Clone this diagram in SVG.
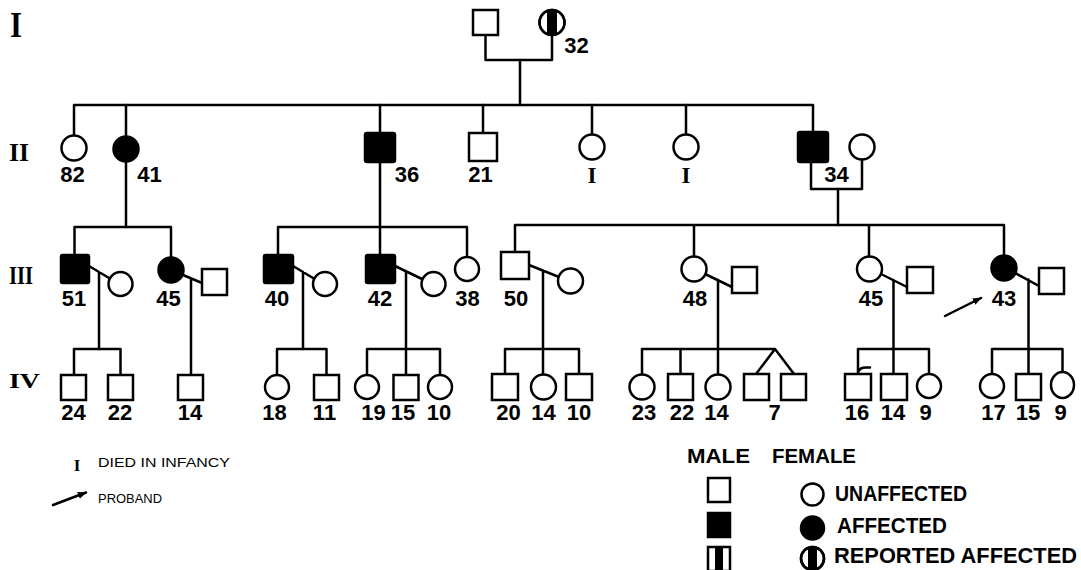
<svg xmlns="http://www.w3.org/2000/svg" width="1081" height="570" viewBox="0 0 1081 570">
<style>
.ln{fill:none;stroke:#000;stroke-width:2.5;stroke-linejoin:round;stroke-linecap:round}
.op{fill:#fff;stroke:#000;stroke-width:2.5}
.af{fill:#000;stroke:#000;stroke-width:2.5}
.lb{font-family:"Liberation Sans",Arial,sans-serif;font-weight:bold;font-size:22px;fill:#000;text-anchor:middle}
.rm{font-family:"Liberation Serif","Times New Roman",serif;font-weight:bold;fill:#000}
.lg{font-family:"Liberation Sans",Arial,sans-serif;font-weight:bold;fill:#000}
.nt{font-family:"Liberation Sans",Arial,sans-serif;font-weight:normal;font-size:13px;fill:#000}
</style>
<defs>
<marker id="ah" viewBox="0 0 10 10" refX="9" refY="5" markerWidth="9" markerHeight="9" markerUnits="userSpaceOnUse" orient="auto">
<path d="M0,1 L10,5 L0,9 Z" fill="#000"/>
</marker>
<clipPath id="cI2"><circle cx="552" cy="22.5" r="12.5"/></clipPath>
<clipPath id="cLg"><circle cx="812.5" cy="558.5" r="11.5"/></clipPath>
</defs>
<rect width="1081" height="570" fill="#fff"/>

<g id="gen-labels">
<text class="rm" x="10" y="37" font-size="36" textLength="12" lengthAdjust="spacingAndGlyphs">I</text>
<text class="rm" x="9" y="161" font-size="26" textLength="20" lengthAdjust="spacingAndGlyphs">II</text>
<text class="rm" x="9" y="284" font-size="26" textLength="24" lengthAdjust="spacingAndGlyphs">III</text>
<text class="rm" x="9" y="388" font-size="20" textLength="31" lengthAdjust="spacingAndGlyphs">IV</text>
</g>

<g id="connectors">
<path class="ln" d="M485.5 35 V60 H552 V35"/>
<path class="ln" d="M520 60 V105"/>
<path class="ln" d="M74 135.5 V105 H813 V132"/>
<path class="ln" d="M126 105 V136 M380 105 V133 M483 105 V133 M592 105 V134.5 M686 105 V134.5"/>
<path class="ln" d="M126 162 V227"/>
<path class="ln" d="M74.5 255 V227 H171 V257"/>
<path class="ln" d="M380 163 V227"/>
<path class="ln" d="M278 255 V227 H467 V256.5 M380 227 V255"/>
<path class="ln" d="M811 162 V189 H862 V159.5"/>
<path class="ln" d="M838 189 V225"/>
<path class="ln" d="M515 252 V225 H1004 V255 M694 225 V256.5 M869 225 V256.5"/>
<path class="ln" d="M89 266 L109 278 M99 272 V349"/>
<path class="ln" d="M74 375 V349 H120.5 V375"/>
<path class="ln" d="M183 275 L202 283 M191 278.5 V375"/>
<path class="ln" d="M293 266 L313 278 M303 272 V349"/>
<path class="ln" d="M277 375 V349 H326.5 V375"/>
<path class="ln" d="M395 266 L422 279 M406 271.5 V375"/>
<path class="ln" d="M367 375 V349 H440 V375"/>
<path class="ln" d="M529 265 L559 277 M543 270.5 V375"/>
<path class="ln" d="M505 374 V349 H579 V374"/>
<path class="ln" d="M705 274 L732 287 M718 280 V375"/>
<path class="ln" d="M642 375 V349 H775 M680.5 349 V374 M756 374 L775 349 L794 374"/>
<path class="ln" d="M881 274 L907 287 M893.5 280 V374"/>
<path class="ln" d="M858 374 V349 H929 V374"/>
<path class="ln" d="M859 371 Q860 367.5 866 367.5 L870 367.5"/>
<path class="ln" d="M1015 273 L1039 286 M1028.5 279.5 V374"/>
<path class="ln" d="M992 374 V349 H1062.5 V372"/>
<path class="ln" d="M945 316 L981 298" marker-end="url(#ah)"/>
</g>

<g id="I-1"><rect class="op" x="473" y="10" width="25" height="25"/></g>
<g id="I-2">
<circle class="op" cx="552" cy="22.5" r="12.5"/>
<rect x="547" y="8" width="10" height="30" fill="#000" clip-path="url(#cI2)"/>
<circle cx="552" cy="22.5" r="12.5" fill="none" stroke="#000" stroke-width="2.5"/>
<text class="lb" x="576.5" y="53">32</text>
</g>

<g id="II-1"><circle class="op" cx="74" cy="148" r="12.5"/><text class="lb" x="72.5" y="182">82</text></g>
<g id="II-2"><circle class="af" cx="126" cy="149" r="12.5"/><text class="lb" x="149.5" y="182">41</text></g>
<g id="II-3"><rect class="af" x="365" y="133" width="30" height="29" rx="2"/><text class="lb" x="407" y="182">36</text></g>
<g id="II-4"><rect class="op" x="469" y="133" width="28" height="28"/><text class="lb" x="480.5" y="182">21</text></g>
<g id="II-5"><circle class="op" cx="592" cy="147" r="12.5"/><text class="rm" x="592" y="183" font-size="23" text-anchor="middle">I</text></g>
<g id="II-6"><circle class="op" cx="686" cy="147" r="12.5"/><text class="rm" x="686" y="183" font-size="23" text-anchor="middle">I</text></g>
<g id="II-7"><rect class="af" x="798" y="132" width="30" height="30" rx="2"/><text class="lb" x="836.5" y="182">34</text></g>
<g id="II-8"><circle class="op" cx="862" cy="147" r="12.5"/></g>

<g id="III-1"><rect class="af" x="61" y="255" width="28" height="28" rx="1.5"/><text class="lb" x="74" y="306">51</text></g>
<g id="III-2"><circle class="op" cx="120.5" cy="284" r="12"/></g>
<g id="III-3"><circle class="af" cx="171" cy="270" r="12.5"/><text class="lb" x="168.5" y="306">45</text></g>
<g id="III-4"><rect class="op" x="202" y="269" width="25" height="26"/></g>
<g id="III-5"><rect class="af" x="264" y="255" width="29" height="28" rx="1.5"/><text class="lb" x="277" y="306">40</text></g>
<g id="III-6"><circle class="op" cx="325" cy="284" r="12"/></g>
<g id="III-7"><rect class="af" x="366" y="255" width="29" height="28" rx="1.5"/><text class="lb" x="380" y="306">42</text></g>
<g id="III-8"><circle class="op" cx="433.5" cy="284" r="12"/></g>
<g id="III-9"><circle class="op" cx="467" cy="269" r="12"/><text class="lb" x="467.5" y="306">38</text></g>
<g id="III-10"><rect class="op" x="501" y="252" width="28" height="27"/><text class="lb" x="516" y="306">50</text></g>
<g id="III-11"><circle class="op" cx="570.5" cy="281" r="12.5"/></g>
<g id="III-12"><circle class="op" cx="694" cy="269" r="12.5"/><text class="lb" x="695" y="306">48</text></g>
<g id="III-13"><rect class="op" x="732" y="267" width="25" height="26"/></g>
<g id="III-14"><circle class="op" cx="869.5" cy="269" r="12.5"/><text class="lb" x="871" y="306">45</text></g>
<g id="III-15"><rect class="op" x="907" y="267" width="26" height="26"/></g>
<g id="III-16"><circle class="af" cx="1004" cy="268" r="12.5"/><text class="lb" x="1004" y="306">43</text></g>
<g id="III-17"><rect class="op" x="1039" y="268" width="25" height="26"/></g>

<g id="IV-1"><rect class="op" x="61" y="375" width="25" height="25"/><text class="lb" x="73.5" y="420">24</text></g>
<g id="IV-2"><rect class="op" x="108" y="375" width="25" height="25"/><text class="lb" x="120" y="420">22</text></g>
<g id="IV-3"><rect class="op" x="178" y="375" width="25" height="25"/><text class="lb" x="190" y="420">14</text></g>
<g id="IV-4"><circle class="op" cx="277" cy="387" r="12"/><text class="lb" x="274.5" y="420">18</text></g>
<g id="IV-5"><rect class="op" x="314" y="375" width="25" height="25"/><text class="lb" x="324.5" y="420">11</text></g>
<g id="IV-6"><circle class="op" cx="367" cy="387" r="12"/><text class="lb" x="373.5" y="420">19</text></g>
<g id="IV-7"><rect class="op" x="393.5" y="375" width="25" height="25"/><text class="lb" x="403" y="420">15</text></g>
<g id="IV-8"><circle class="op" cx="440" cy="387" r="12"/><text class="lb" x="439" y="420">10</text></g>
<g id="IV-9"><rect class="op" x="492" y="374" width="26" height="26"/><text class="lb" x="508.5" y="420">20</text></g>
<g id="IV-10"><circle class="op" cx="543.5" cy="387" r="12.5"/><text class="lb" x="543.5" y="420">14</text></g>
<g id="IV-11"><rect class="op" x="566" y="374" width="26" height="26"/><text class="lb" x="579" y="420">10</text></g>
<g id="IV-12"><circle class="op" cx="642" cy="387" r="12.5"/><text class="lb" x="644" y="420">23</text></g>
<g id="IV-13"><rect class="op" x="668" y="374" width="25" height="26"/><text class="lb" x="682" y="420">22</text></g>
<g id="IV-14"><circle class="op" cx="718" cy="387" r="12.5"/><text class="lb" x="716.5" y="420">14</text></g>
<g id="IV-15"><rect class="op" x="744" y="374" width="25" height="26"/></g>
<g id="IV-16"><rect class="op" x="781" y="374" width="25" height="26"/><text class="lb" x="774.5" y="420">7</text></g>
<g id="IV-17"><rect class="op" x="845" y="374" width="26" height="26"/><text class="lb" x="857" y="420">16</text></g>
<g id="IV-18"><rect class="op" x="881" y="374" width="26" height="26"/><text class="lb" x="893" y="420">14</text></g>
<g id="IV-19"><circle class="op" cx="929" cy="386" r="12"/><text class="lb" x="925.5" y="420">9</text></g>
<g id="IV-20"><circle class="op" cx="992" cy="386" r="12"/><text class="lb" x="993.5" y="420">17</text></g>
<g id="IV-21"><rect class="op" x="1016" y="374" width="25" height="26"/><text class="lb" x="1028" y="420">15</text></g>
<g id="IV-22"><ellipse class="op" cx="1062.5" cy="385" rx="11.5" ry="13"/><text class="lb" x="1060.5" y="420">9</text></g>

<g id="legend-notes">
<text class="rm" x="77" y="471" font-size="17" text-anchor="middle">I</text>
<text class="nt" x="98" y="467" textLength="132" lengthAdjust="spacingAndGlyphs">DIED IN INFANCY</text>
<path class="ln" d="M53 505 L86 492.5" marker-end="url(#ah)"/>
<text class="nt" x="98" y="503" textLength="64" lengthAdjust="spacingAndGlyphs">PROBAND</text>
</g>

<g id="legend">
<text class="lg" x="687" y="463" font-size="20" textLength="63" lengthAdjust="spacingAndGlyphs">MALE</text>
<text class="lg" x="772" y="463" font-size="20" textLength="84" lengthAdjust="spacingAndGlyphs">FEMALE</text>
<rect class="op" x="708" y="478" width="22" height="24"/>
<circle class="op" cx="812.5" cy="494.5" r="11"/>
<text class="lg" x="835" y="501" font-size="22" textLength="132" lengthAdjust="spacingAndGlyphs">UNAFFECTED</text>
<rect class="af" x="708" y="513" width="22" height="24"/>
<circle class="af" cx="812.5" cy="528" r="11.5"/>
<text class="lg" x="837" y="533" font-size="22" textLength="110" lengthAdjust="spacingAndGlyphs">AFFECTED</text>
<rect class="op" x="708" y="547" width="22" height="24"/>
<rect x="715" y="547" width="8" height="24" fill="#000"/>
<circle class="op" cx="812.5" cy="558.5" r="11.5"/>
<rect x="808" y="545" width="9" height="28" fill="#000" clip-path="url(#cLg)"/>
<circle cx="812.5" cy="558.5" r="11.5" fill="none" stroke="#000" stroke-width="2.5"/>
<text class="lg" x="834" y="563" font-size="22" textLength="243" lengthAdjust="spacingAndGlyphs">REPORTED AFFECTED</text>
</g>
</svg>
